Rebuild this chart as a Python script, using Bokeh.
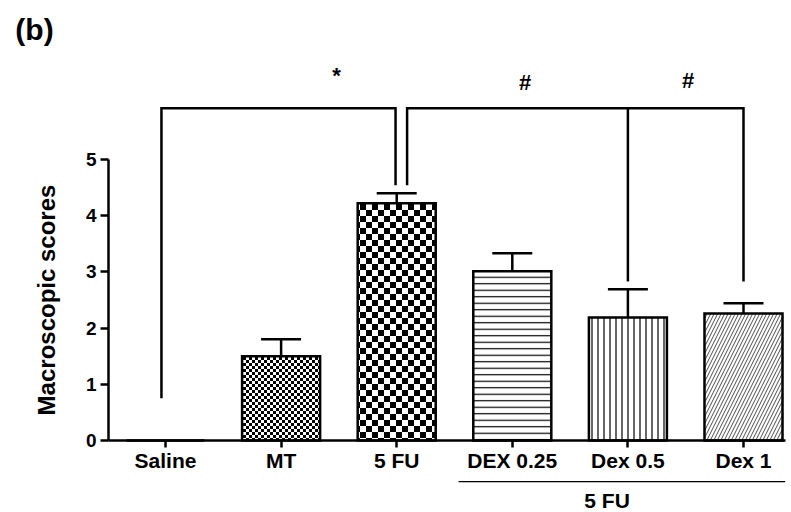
import base64
from bokeh.plotting import figure
from bokeh.models import (ColumnDataSource, Range1d, FixedTicker, ImageURLTexture)
from bokeh.core.properties import value
from bokeh.embed import file_html
from bokeh.resources import INLINE

# ---- data ----
categories = ["Saline", "MT", "5 FU", "DEX 0.25", "Dex 0.5", "Dex 1"]
scores = [0.0, 1.5, 4.22, 3.01, 2.19, 2.26]
upper = [0.0, 1.80, 4.40, 3.33, 2.69, 2.44]
y_ticks = [0, 1, 2, 3, 4, 5]
group_label = "5 FU"
group_members = [3, 4, 5]

# significance brackets (data coords)
br_left_x = [-0.035, 2.09]
br_right_x = [1.99, 5.0]
br_left_bottom = [0.75, 4.54]
br_right_bottom = [4.54, 2.83]
br_top = [5.91, 5.91]
br_mid_x = [4.0]
br_mid_bottom = [2.83]
sig_text = ["*", "#", "#"]
sig_x = [1.48, 3.11, 4.52]
sig_y = [6.50, 6.37, 6.40]

FONT = "Liberation Sans"

def svg_checker(n):
    s = (f"<svg xmlns='http://www.w3.org/2000/svg' width='{2*n}' height='{2*n}'>"
         f"<rect width='{2*n}' height='{2*n}' fill='white'/>"
         f"<rect width='{n}' height='{n}' fill='black'/>"
         f"<rect x='{n}' y='{n}' width='{n}' height='{n}' fill='black'/></svg>")
    return "data:image/svg+xml;base64," + base64.b64encode(s.encode()).decode()

px_x = 115.6
px_y = 56.2
W, H = 791, 512
x0 = (0 - 165) / px_x
x1 = x0 + W / px_x
y1 = (440 - 0) / px_y
y0 = y1 - H / px_y

p = figure(width=W, height=H, output_backend="svg", toolbar_location=None,
           x_range=Range1d(x0, x1), y_range=Range1d(y0, y1),
           min_border=0, min_border_left=0, min_border_right=0,
           min_border_top=0, min_border_bottom=0)
p.outline_line_color = None
p.grid.visible = False
p.background_fill_color = "white"
p.border_fill_color = "white"

xs = list(range(len(categories)))
patterns = [" ", "chk_fine", "chk_coarse", "horizontal_line", "vertical_line", "right_diagonal_line"]
scales = [6, 6, 6, 6.5, 6, 7]
weights = [1, 1, 1, 1.2, 1.2, 0.7]
src = ColumnDataSource(dict(x=xs, top=scores, hp=patterns, hs=scales, hw=weights))
p.vbar(x="x", top="top", bottom=0, width=0.675, source=src,
       fill_color="white", line_color="black", line_width=2.5, line_join="miter",
       hatch_pattern="hp", hatch_scale="hs", hatch_color="black", hatch_weight="hw",
       hatch_extra={"chk_fine": ImageURLTexture(url=svg_checker(3)),
                    "chk_coarse": ImageURLTexture(url=svg_checker(6))})

# error bars
cw = 0.346
p.segment(x0=xs[1:], y0=scores[1:], x1=xs[1:], y1=upper[1:], line_color="black", line_width=2.5)
p.segment(x0=[x - cw / 2 for x in xs[1:]], y0=upper[1:], x1=[x + cw / 2 for x in xs[1:]], y1=upper[1:],
          line_color="black", line_width=2.5)

# brackets
bx = [[lx, lx, rx, rx] for lx, rx in zip(br_left_x, br_right_x)]
by = [[lb, t, t, rb] for lb, rb, t in zip(br_left_bottom, br_right_bottom, br_top)]
p.multi_line(xs=bx, ys=by, line_color="black", line_width=2.5, line_join="miter")
p.segment(x0=br_mid_x, y0=br_mid_bottom, x1=br_mid_x, y1=[br_top[1]] * len(br_mid_x),
          line_color="black", line_width=2.5)
p.text(x=sig_x, y=sig_y, text=sig_text, text_align="center", text_baseline="middle",
       text_font=value(FONT), text_font_style="bold", text_font_size="22px", text_color="black")

# group underline + label
gx0 = min(group_members) - 0.465
gx1 = max(group_members) + 0.36
p.segment(x0=[gx0], y0=[-0.73], x1=[gx1], y1=[-0.73], line_color="black", line_width=1.2)
p.text(x=[sum(group_members) / len(group_members) - 0.18], y=[-1.06], text=[group_label],
       text_align="center", text_baseline="middle",
       text_font=value(FONT), text_font_style="bold", text_font_size="21px", text_color="black")

# panel label
p.text(x=[x0 + 34 / px_x], y=[(440 - 29) / px_y], text=["(b)"], text_align="center", text_baseline="middle",
       text_font=value(FONT), text_font_style="bold", text_font_size="30px", text_color="black")

# axes
xa = p.xaxis[0]
xa.fixed_location = 0
xa.bounds = ((108 - 165) / px_x, (785 - 165) / px_x)
xa.ticker = FixedTicker(ticks=xs)
xa.major_label_overrides = {i: c for i, c in enumerate(categories)}
xa.minor_tick_line_color = None
xa.major_tick_in = 0
xa.major_tick_out = 7
xa.major_tick_line_width = 2.5
xa.axis_line_width = 2.5
xa.axis_line_color = "black"
xa.major_tick_line_color = "black"
xa.major_label_text_font = FONT
xa.major_label_text_font_style = "bold"
xa.major_label_text_font_size = "21px"
xa.major_label_text_color = "black"
xa.major_label_standoff = 1

ya = p.yaxis[0]
ya.fixed_location = (108 - 165) / px_x
ya.bounds = (0, 5)
ya.ticker = FixedTicker(ticks=y_ticks)
ya.minor_tick_line_color = None
ya.major_tick_in = 0
ya.major_tick_out = 8
ya.major_tick_line_width = 2.5
ya.axis_line_width = 2.5
ya.axis_line_color = "black"
ya.major_tick_line_color = "black"
ya.major_label_text_font = FONT
ya.major_label_text_font_style = "bold"
ya.major_label_text_font_size = "19px"
ya.major_label_text_color = "black"
ya.major_label_standoff = 4
ya.axis_label = "Macroscopic scores"
ya.axis_label_text_font = FONT
ya.axis_label_text_font_style = "bold"
ya.axis_label_text_font_size = "24px"
ya.axis_label_text_color = "black"
ya.axis_label_standoff = 23

open("out.html", "w").write(file_html(p, INLINE))
